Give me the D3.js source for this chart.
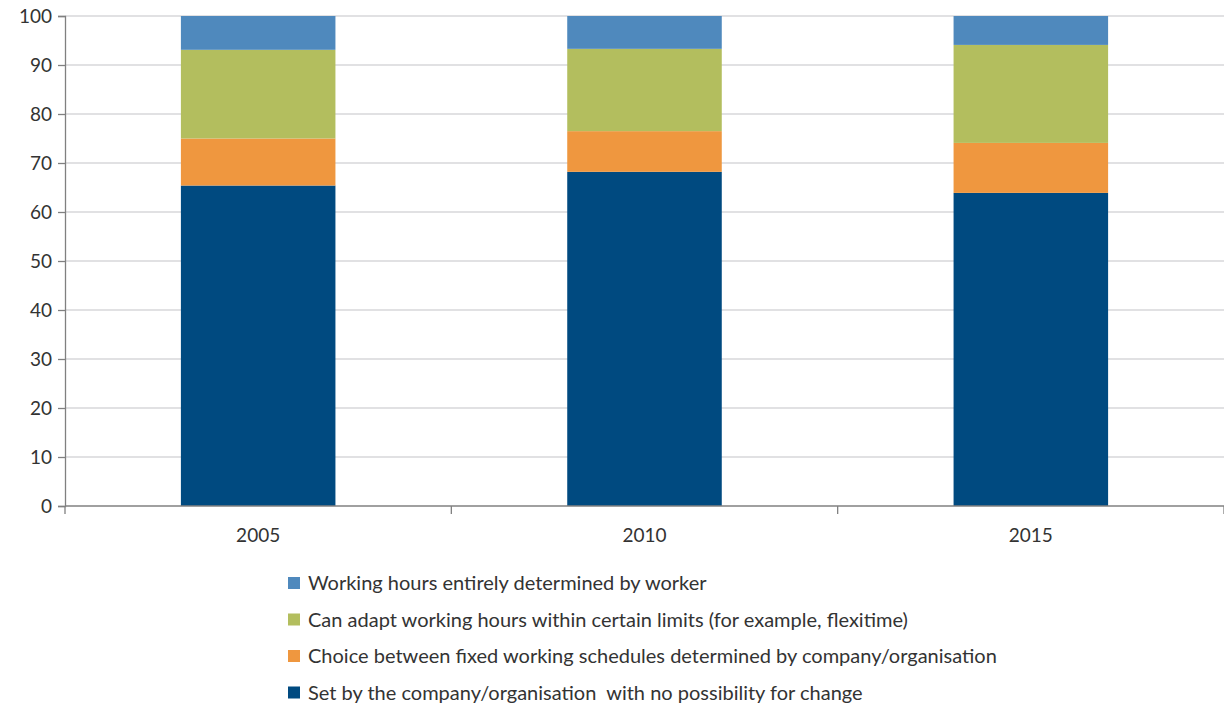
<!DOCTYPE html>
<meta charset="utf-8">
<style>
  body { margin: 0; background: #fff; }
  svg text { font-family: "Lato", "Noto Sans", sans-serif; fill: #333; }
</style>
<svg width="1224" height="707"></svg>
<script src="https://cdn.jsdelivr.net/npm/d3@7"></script>
<script>

var years = ["2005", "2010", "2015"];
var series = [
  "Set by the company/organisation  with no possibility for change",
  "Choice between fixed working schedules determined by company/organisation",
  "Can adapt working hours within certain limits (for example, flexitime)",
  "Working hours entirely determined by worker"
];
var setByCompany = [65.4, 68.2, 63.9];
var fixedChoice = [9.6, 8.3, 10.2];
var adaptLimits = [18.1, 16.8, 20.0];
var entirelyWorker = [6.9, 6.7, 5.9];
var colors = ["#004a80", "#ef973f", "#b3be5e", "#4f89bd"];
var yTicks = [0, 10, 20, 30, 40, 50, 60, 70, 80, 90, 100];

var svg = d3.select("svg");

var rows = years.map(function(y, i) {
  return { year: y, s0: setByCompany[i], s1: fixedChoice[i], s2: adaptLimits[i], s3: entirelyWorker[i] };
});

var stacked = d3.stack().keys(["s0", "s1", "s2", "s3"])(rows);

var x = d3.scaleBand()
    .domain(years)
    .range([65, 1224])
    .paddingInner(0.6)
    .paddingOuter(0.3);

var y = d3.scaleLinear()
    .domain([0, 100])
    .range([506, 16]);

// gridlines
svg.append("g")
  .selectAll("line")
  .data(yTicks.slice(1))
  .enter().append("line")
    .attr("x1", 65).attr("x2", 1224)
    .attr("y1", function(d) { return y(d); })
    .attr("y2", function(d) { return y(d); })
    .attr("stroke", "#c4c4c8")
    .attr("stroke-width", 1.2);

// bars
svg.append("g")
  .selectAll("g")
  .data(stacked)
  .enter().append("g")
    .attr("fill", function(d, i) { return colors[i]; })
  .selectAll("rect")
  .data(function(d) { return d; })
  .enter().append("rect")
    .attr("x", function(d) { return x(d.data.year); })
    .attr("width", x.bandwidth())
    .attr("y", function(d) { return y(d[1]); })
    .attr("height", function(d) { return y(d[0]) - y(d[1]); });

// y axis
var yAxis = svg.append("g")
    .attr("transform", "translate(65,0)")
    .call(d3.axisLeft(y).tickValues(yTicks).tickSize(7).tickPadding(6));
yAxis.selectAll("text").style("font-size", "19px").attr("fill", "#222");
yAxis.selectAll("line, path").attr("stroke", "#808080").attr("stroke-width", 1.3);

// x axis, ticks sit on the category boundaries
var xg = svg.append("g").attr("transform", "translate(0,506)");
xg.append("line")
    .attr("x1", 65).attr("x2", 1224)
    .attr("stroke", "#808080").attr("stroke-width", 1.3);
var bounds = [65].concat(years.map(function(d, i) { return 65 + (i + 1) * (1224 - 65) / years.length; }));
xg.selectAll(".tk")
  .data(bounds)
  .enter().append("line")
    .attr("x1", function(d) { return d; }).attr("x2", function(d) { return d; })
    .attr("y1", 0).attr("y2", 8)
    .attr("stroke", "#808080").attr("stroke-width", 1.3);
xg.selectAll("text")
  .data(years)
  .enter().append("text")
    .attr("x", function(d) { return x(d) + x.bandwidth() / 2; })
    .attr("y", 36)
    .attr("text-anchor", "middle")
    .style("font-size", "19px")
    .attr("fill", "#222")
    .text(function(d) { return d; });

// legend, top-down: worker, adapt, choice, set
var legendOrder = [3, 2, 1, 0];
var legend = svg.append("g").attr("transform", "translate(288,583)");
var item = legend.selectAll("g")
  .data(legendOrder)
  .enter().append("g")
    .attr("transform", function(d, i) { return "translate(0," + (i * 36.5) + ")"; });
item.append("rect")
    .attr("x", 0).attr("y", -6)
    .attr("width", 12).attr("height", 12)
    .attr("fill", function(d) { return colors[d]; });
item.append("text")
    .attr("x", 20).attr("y", 0)
    .attr("dy", "0.35em")
    .style("font-size", "20px")
    .style("white-space", "pre")
    .attr("fill", "#222")
    .text(function(d) { return series[d]; });
</script>
